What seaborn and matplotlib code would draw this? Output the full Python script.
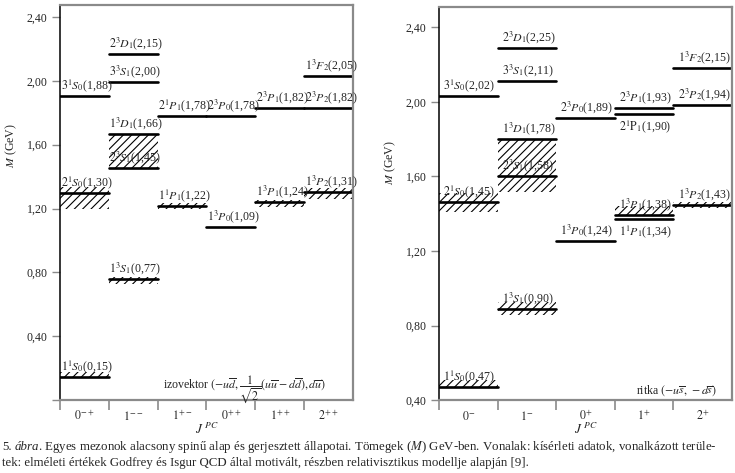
import numpy as np
import pandas as pd
import seaborn as sns
import matplotlib.pyplot as plt

# ---------------- adatok ----------------
# izovektor panel (bal)
iso_cats = [r'$0^{-+}$', r'$1^{--}$', r'$1^{+-}$', r'$0^{++}$', r'$1^{++}$', r'$2^{++}$']
iso_col = [0, 0, 0, 1, 1, 1, 1, 1, 2, 2, 3, 3, 4, 4, 5, 5, 5]
iso_mass = [0.145, 1.298, 1.902, 0.756, 1.454, 1.667, 1.992, 2.167, 1.214, 1.777,
            1.083, 1.777, 1.242, 1.829, 1.302, 1.829, 2.033]
iso_label = [r'$1^1S_0$(0,15)', r'$2^1S_0$(1,30)', r'$3^1S_0$(1,88)',
             r'$1^3S_1$(0,77)', r'$2^3S_1$(1,45)', r'$1^3D_1$(1,66)', r'$3^3S_1$(2,00)', r'$2^3D_1$(2,15)',
             r'$1^1P_1$(1,22)', r'$2^1P_1$(1,78)',
             r'$1^3P_0$(1,09)', r'$2^3P_0$(1,78)',
             r'$1^3P_1$(1,24)', r'$2^3P_1$(1,82)',
             r'$1^3P_2$(1,31)', r'$2^3P_2$(1,82)', r'$1^3F_2$(2,05)']
iso_below = [False] * len(iso_mass)
# elméleti (vonalkázott) sávok
iso_band_col = [0, 0, 1, 1, 2, 4, 5]
iso_band_lo = [0.140, 1.195, 0.730, 1.455, 1.200, 1.210, 1.260]
iso_band_hi = [0.175, 1.335, 0.770, 1.665, 1.235, 1.255, 1.330]
iso_yticks = [0.0, 0.4, 0.8, 1.2, 1.6, 2.0, 2.4]
iso_yticklabels = ['', '0,40', '0,80', '1,20', '1,60', '2,00', '2,40']

# ritka panel (jobb)
str_cats = [r'$0^{-}$', r'$1^{-}$', r'$0^{+}$', r'$1^{+}$', r'$2^{+}$']
str_col = [0, 0, 0, 1, 1, 1, 1, 1, 2, 2, 3, 3, 3, 3, 4, 4, 4]
str_mass = [0.471, 1.462, 2.032, 0.889, 1.600, 1.800, 2.114, 2.287, 1.253, 1.912,
            1.370, 1.395, 1.936, 1.966, 1.448, 1.984, 2.180]
str_label = [r'$1^1S_0$(0,47)', r'$2^1S_0$(1,45)', r'$3^1S_0$(2,02)',
             r'$1^3S_1$(0,90)', r'$2^3S_1$(1,58)', r'$1^3D_1$(1,78)', r'$3^3S_1$(2,11)', r'$2^3D_1$(2,25)',
             r'$1^3P_0$(1,24)', r'$2^3P_0$(1,89)',
             r'$1^1P_1$(1,34)', r'$1^3P_1$(1,38)', r'$2^1\mathrm{P}_1$(1,90)', r'$2^3P_1$(1,93)',
             r'$1^3P_2$(1,43)', r'$2^3P_2$(1,94)', r'$1^3F_2$(2,15)']
str_below = [False] * 10 + [True, False, True, False] + [False] * 3
str_band_col = [0, 0, 1, 1, 3, 4]
str_band_lo = [0.470, 1.410, 0.855, 1.515, 1.395, 1.430]
str_band_hi = [0.510, 1.510, 0.925, 1.800, 1.440, 1.465]
str_yticks = [0.4, 0.8, 1.2, 1.6, 2.0, 2.4]
str_yticklabels = ['0,40', '0,80', '1,20', '1,60', '2,00', '2,40']

# ---------------- stílus ----------------
sns.set_style('ticks')
plt.rcParams['font.family'] = ['Liberation Serif', 'DejaVu Serif']
plt.rcParams['mathtext.fontset'] = 'stix'
plt.rcParams['hatch.linewidth'] = 0.8
GRAY = '#8a8a8a'
FS = 8.6
CAP_FS = 9.3


def panel(ax, cats, cols, mass, labels, below, bcol, blo, bhi, ylim, yt, ytl, lab_dx, note, note_xy, ylab_xy):
    n = len(cats)
    # vonalkázott sávok
    ax.bar(bcol, np.array(bhi) - np.array(blo), bottom=blo, width=1.0, fill=False,
           hatch='////', edgecolor='k', linewidth=0)
    # szintek
    rows = []
    for i, (c, m) in enumerate(zip(cols, mass)):
        rows.append({'id': i, 'x': c - 0.5, 'M': m})
        rows.append({'id': i, 'x': c + 0.5, 'M': m})
    df = pd.DataFrame(rows)
    sns.lineplot(data=df, x='x', y='M', units='id', estimator=None, color='k',
                 lw=1.9, ax=ax, legend=False)
    for c, m, t, b in zip(cols, mass, labels, below):
        if b:
            ax.annotate(t, (c - 0.5, m), xytext=(lab_dx, -3), textcoords='offset points',
                        ha='left', va='top', fontsize=FS)
        else:
            ax.annotate(t, (c - 0.5, m), xytext=(lab_dx, 1.5), textcoords='offset points',
                        ha='left', va='bottom', fontsize=FS)
    ax.set_xlim(-0.5, n - 0.5)
    ax.set_ylim(*ylim)
    ax.set_yticks(yt)
    ax.set_yticklabels(ytl, fontsize=FS)
    ax.set_xticks(range(n))
    ax.set_xticklabels(cats, fontsize=FS)
    ax.set_xticks(np.arange(n) - 0.5, minor=True)
    ax.tick_params(axis='x', which='major', length=0, pad=7)
    ax.tick_params(axis='x', which='minor', length=7, width=1.2, color=GRAY, direction='out')
    ax.tick_params(axis='y', length=6, width=1.0, color=GRAY, direction='out', pad=3)
    ax.set_xlabel(r'$J^{\ PC}$', fontsize=FS + 1, labelpad=-1)
    ax.set_ylabel(r'$M$ (GeV)', fontsize=FS)
    ax.yaxis.set_label_coords(*ylab_xy)
    ax.spines['left'].set_color('k')
    ax.spines['left'].set_linewidth(1.1)
    for s in ['top', 'right', 'bottom']:
        ax.spines[s].set_visible(True)
        ax.spines[s].set_color(GRAY)
        ax.spines[s].set_linewidth(1.6)
    ax.text(note_xy[0], note_xy[1], note, transform=ax.transAxes, ha='right',
            va='baseline', fontsize=FS)


fig = plt.figure(figsize=(7.35, 4.73), dpi=100)
ax1 = fig.add_axes([0.0816, 0.1543, 0.3986, 0.835])
ax2 = fig.add_axes([0.5973, 0.1543, 0.3986, 0.831])

panel(ax1, iso_cats, iso_col, iso_mass, iso_label, iso_below,
      iso_band_col, iso_band_lo, iso_band_hi, (0.0, 2.475), iso_yticks, iso_yticklabels, 0.5,
      r'izovektor $(-u\overline{d},\dfrac{1}{\sqrt{2}}(u\overline{u}-d\overline{d}),d\overline{u})$',
      (0.91, 0.03), (-0.14, 0.645))
panel(ax2, str_cats, str_col, str_mass, str_label, str_below,
      str_band_col, str_band_lo, str_band_hi, (0.40, 2.51), str_yticks, str_yticklabels, 3,
      r'ritka $(-u\overline{s},\,-d\overline{s})$',
      (0.95, 0.015), (-0.14, 0.605))

# képaláírás
y1 = 1 - 450 / 473
y2 = 1 - 466 / 473
fig.canvas.draw()
r = fig.canvas.get_renderer()
t0 = fig.text(0.003, y1, '5.', fontsize=CAP_FS, va='baseline')
x = t0.get_window_extent(r).x1 + 3
t1 = fig.text(x / 735, y1, 'ábra', style='italic', fontsize=CAP_FS, va='baseline')
x = t1.get_window_extent(r).x1 - 1.5
fig.text(x / 735, y1, '. Egyes mezonok alacsony spinű alap és gerjesztett állapotai. Tömegek ($M$) '
         'GeV-ben. Vonalak: kísérleti adatok, vonalkázott terüle-', fontsize=CAP_FS, va='baseline')
fig.text(0.003, y2, 'tek: elméleti értékek Godfrey és Isgur QCD által motivált, részben '
         'relativisztikus modellje alapján [9].', fontsize=CAP_FS, va='baseline')

fig.savefig('out.png', dpi=100)
